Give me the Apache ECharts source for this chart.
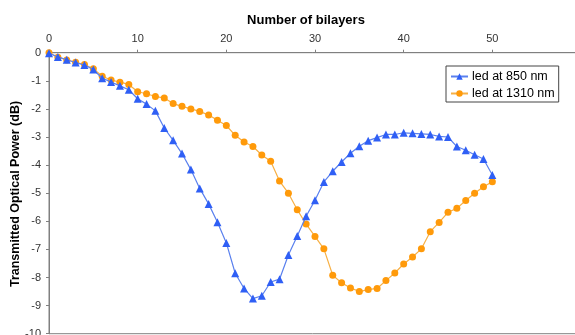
<!DOCTYPE html>
<html>
<head>
<meta charset="utf-8">
<style>
  html, body { margin: 0; padding: 0; background: #fff; }
  #chart { width: 575px; height: 335px; }
</style>
<script src="https://cdn.jsdelivr.net/npm/echarts@6/dist/echarts.min.js"></script>
</head>
<body>
<div id="chart"></div>
<script>
// Number of bilayers (0..50)
const bilayers = [];
for (let n = 0; n <= 50; n++) bilayers.push(n);

// Transmitted optical power (dB), LED at 850 nm
const led850 = [
  -0.02, -0.15, -0.25, -0.35, -0.44, -0.60, -0.91, -1.04, -1.18, -1.32,
  -1.64, -1.83, -2.07, -2.68, -3.12, -3.59, -4.16, -4.83, -5.38, -6.03,
  -6.77, -7.85, -8.39, -8.75, -8.65, -8.16, -8.06, -7.20, -6.52, -5.82,
  -5.25, -4.60, -4.22, -3.89, -3.58, -3.33, -3.13, -3.02, -2.91, -2.91,
  -2.85, -2.87, -2.89, -2.91, -2.98, -3.00, -3.34, -3.47, -3.63, -3.78,
  -4.35
];

// Transmitted optical power (dB), LED at 1310 nm
const led1310 = [
  0.00, -0.16, -0.26, -0.34, -0.42, -0.57, -0.84, -0.97, -1.05, -1.13,
  -1.39, -1.46, -1.56, -1.61, -1.81, -1.91, -2.00, -2.09, -2.22, -2.40,
  -2.59, -2.94, -3.18, -3.34, -3.64, -3.86, -4.57, -5.00, -5.59, -6.10,
  -6.54, -6.98, -7.92, -8.19, -8.37, -8.50, -8.43, -8.39, -8.11, -7.84,
  -7.52, -7.27, -6.98, -6.37, -6.04, -5.68, -5.54, -5.26, -5.00, -4.77,
  -4.59
];

const seriesNames = ['led at 850 nm', 'led at 1310 nm'];
const xTitle = 'Number of bilayers';
const yTitle = 'Transmitted Optical Power (dB)';

const pairs = (ys) => bilayers.map((x, i) => [x, ys[i]]);

const chart = echarts.init(document.getElementById('chart'));
const font = 'Liberation Sans, Arial, sans-serif';

chart.setOption({
  animation: false,
  backgroundColor: '#ffffff',
  title: {
    text: xTitle,
    left: 301,
    top: 9,
    textAlign: 'center',
    textStyle: { fontFamily: font, fontSize: 13, fontWeight: 'bold', color: '#000' }
  },
  // vertical axis title, placed beside the tick labels
  graphic: [{
    type: 'text',
    x: 16,
    y: 194,
    rotation: Math.PI / 2,
    style: {
      text: yTitle,
      align: 'center',
      verticalAlign: 'middle',
      font: 'bold 12.5px ' + font,
      fill: '#000'
    }
  }],
  grid: {
    left: 49,
    top: 52.7,
    width: 532,
    height: 281,
    outerBoundsMode: 'none',
    containLabel: false,
    show: true,
    borderColor: '#808080',
    borderWidth: 1
  },
  legend: {
    orient: 'vertical',
    left: 446,
    top: 66,
    padding: [4, 4, 2, 4],
    itemGap: 4,
    itemWidth: 17,
    itemHeight: 8,
    borderColor: '#444',
    borderWidth: 1,
    backgroundColor: '#fff',
    textStyle: { fontFamily: font, fontSize: 12.5, color: '#000', padding: [0, 0, 0, -1] },
    data: seriesNames
  },
  xAxis: {
    type: 'value',
    position: 'top',
    min: 0,
    max: 60,
    interval: 10,
    axisLine: { show: true, onZero: false, lineStyle: { color: '#808080', width: 1 } },
    axisTick: { show: true, inside: false, length: 3, lineStyle: { color: '#808080' } },
    axisLabel: { margin: 8, fontFamily: font, fontSize: 11, color: '#333' },
    splitLine: { show: false }
  },
  yAxis: {
    type: 'value',
    min: -10,
    max: 0,
    interval: 1,
    axisLine: { show: true, onZero: false, lineStyle: { color: '#808080', width: 1 } },
    axisTick: { show: true, inside: false, length: 3, lineStyle: { color: '#808080' } },
    axisLabel: { margin: 8, fontFamily: font, fontSize: 11, color: '#333' },
    splitLine: { show: false }
  },
  series: [
    {
      name: seriesNames[0],
      type: 'line',
      data: pairs(led850),
      symbol: 'triangle',
      symbolSize: 8,
      itemStyle: { color: '#2f5ff5' },
      lineStyle: { color: '#5a80ee', width: 1.2 },
      z: 3
    },
    {
      name: seriesNames[1],
      type: 'line',
      data: pairs(led1310),
      symbol: 'circle',
      symbolSize: 7,
      itemStyle: { color: '#ff9a0a' },
      lineStyle: { color: '#f7b045', width: 1.2 },
      z: 2
    }
  ]
});
</script>
</body>
</html>
